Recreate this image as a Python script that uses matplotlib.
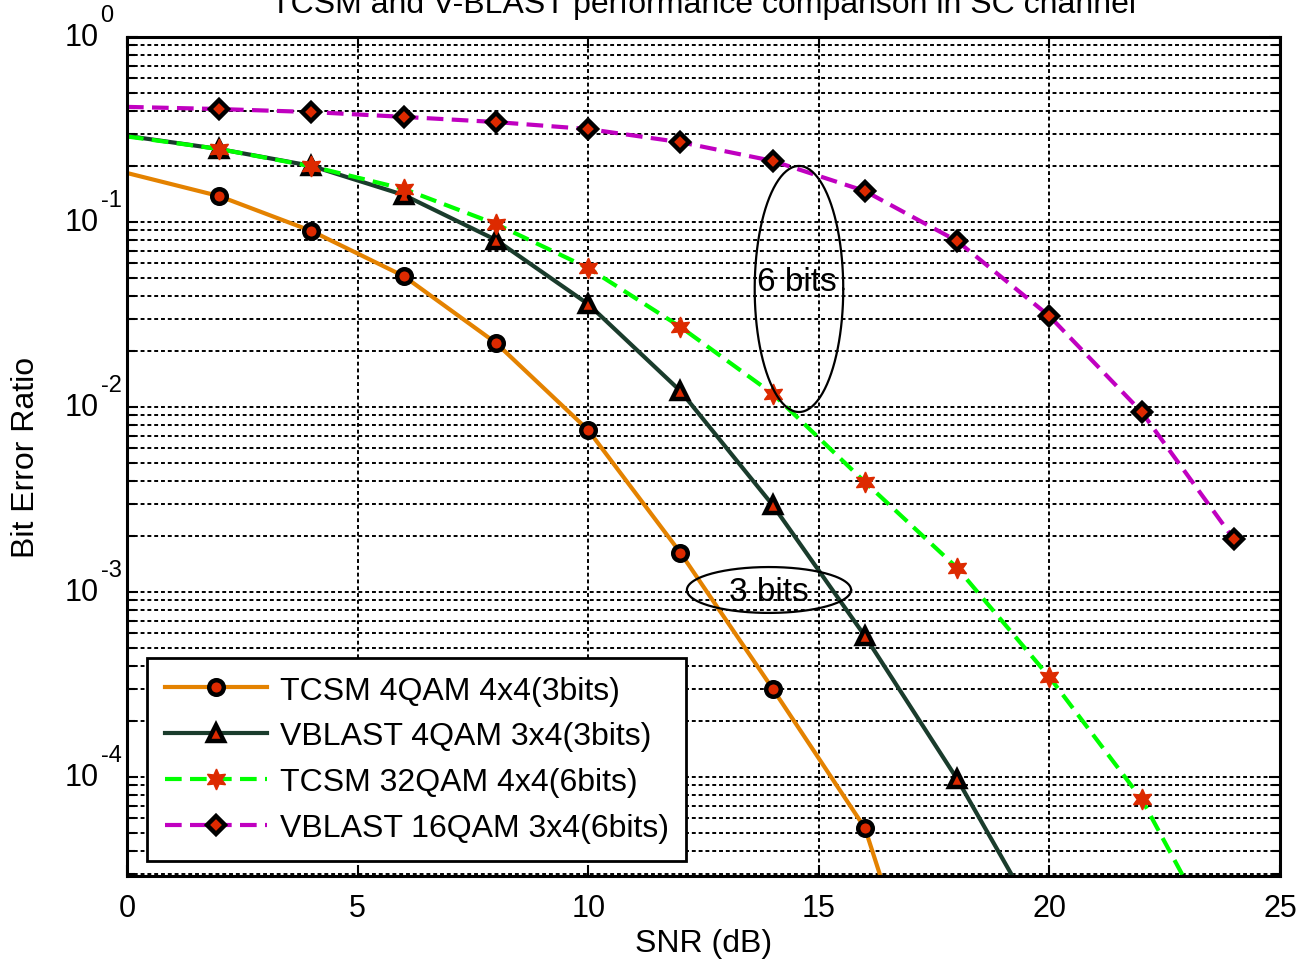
import matplotlib.pyplot as plt
import numpy as np

plt.rcParams['font.family'] = ['Liberation Sans', 'DejaVu Sans']

# data (SNR in dB, BER) - markers every 2 dB starting at 2 dB
snr_a = [0, 2, 4, 6, 8, 10, 12, 14, 16, 18]
tcsm_4qam = [0.184, 0.138, 0.0894, 0.051, 0.0222, 0.0075, 0.00163, 3.0e-4, 5.3e-5, 1.5e-6]

snr_b = [0, 2, 4, 6, 8, 10, 12, 14, 16, 18, 20]
vblast_4qam = [0.292, 0.248, 0.201, 0.14, 0.08, 0.036, 0.0122, 0.00295, 5.78e-4, 9.75e-5, 1.3e-5]

snr_c = [0, 2, 4, 6, 8, 10, 12, 14, 16, 18, 20, 22, 24]
tcsm_32qam = [0.29, 0.248, 0.2, 0.151, 0.0975, 0.0564, 0.0271, 0.0118, 0.00393, 0.00135, 3.47e-4, 7.6e-5, 9e-6]

snr_d = [0, 2, 4, 6, 8, 10, 12, 14, 16, 18, 20, 22, 24]
vblast_16qam = [0.419, 0.408, 0.393, 0.37, 0.347, 0.318, 0.27, 0.214, 0.147, 0.0789, 0.031, 0.0094, 0.00193]

labels = ['TCSM 4QAM 4x4(3bits)', 'VBLAST 4QAM 3x4(3bits)',
          'TCSM 32QAM 4x4(6bits)', 'VBLAST 16QAM 3x4(6bits)']

ytick_exp = [-4, -3, -2, -1, 0]

red = '#dd2a00'
hexagram = (6, 1, 0)
fs = 23

fig = plt.figure(figsize=(12.99, 9.62), dpi=100)
ax = fig.add_axes([127/1299, 1-877/962, (1280-127)/1299, (877-38)/962])

ax.plot(snr_a, tcsm_4qam, '-', color='#e48200', lw=3, marker='o', ms=10.5,
        mfc=red, mec='black', mew=3.2, markevery=slice(1, None), label=labels[0])
ax.plot(snr_b, vblast_4qam, '-', color='#1a3c2c', lw=3, marker='^', ms=12,
        mfc=red, mec='black', mew=3.2, markevery=slice(1, None), label=labels[1])
ax.plot(snr_c, tcsm_32qam, '--', color='#00ff00', lw=3, dashes=(4, 2), marker=hexagram, ms=15,
        mfc=red, mec=red, mew=1, markevery=slice(1, None), label=labels[2])
ax.plot(snr_d, vblast_16qam, '--', color='#c000c0', lw=3, dashes=(4, 2), marker='D', ms=9,
        mfc=red, mec='black', mew=3.2, markevery=slice(1, None), label=labels[3])

# ellipses drawn in (SNR, log BER) space
def ellipse(cx, cy, a, b):
    t = np.linspace(0, 2*np.pi, 200)
    ax.plot(cx + a*np.cos(t), 10**(np.log10(cy) + b*np.sin(t)), color='black', lw=1.6)

ellipse(14.57, 10**-1.362, 0.96, 0.665)
ax.text(14.53, 10**-1.319, '6 bits', fontsize=24, ha='center', va='center')
ellipse(13.92, 10**-2.989, 1.78, 0.124)
ax.text(13.92, 10**-2.995, '3 bits', fontsize=24, ha='center', va='center')

ax.set_yscale('log')
ax.set_xlim(0, 25)
ax.set_ylim(10**-4.535, 1)
ax.set_xticks([0, 5, 10, 15, 20, 25])
ax.set_yticks([10.0**e for e in ytick_exp])
ax.set_yticklabels([])
# MATLAB-style "10" with raised exponent
ytr = ax.get_yaxis_transform()
for e in ytick_exp:
    ax.annotate('10', xy=(0, 10.0**e), xycoords=ytr, xytext=(-20, 0), textcoords='offset points',
                fontsize=22, ha='right', va='center')
    ax.annotate(str(e), xy=(0, 10.0**e), xycoords=ytr, xytext=(-19, 8), textcoords='offset points',
                fontsize=17, ha='left', va='bottom')

ax.grid(True, which='major', color='black', linestyle=(0, (2, 1.5)), lw=1.4)
ax.grid(True, which='minor', axis='y', color='black', linestyle=(0, (2, 1.5)), lw=1.4)
ax.tick_params(which='both', direction='in', top=True, right=True, labelsize=22, width=1.5)
ax.tick_params(which='major', length=8)
ax.tick_params(which='minor', length=6)
ax.tick_params(axis='x', pad=12)
for s in ax.spines.values():
    s.set_linewidth(2.2)

ax.set_xlabel('SNR (dB)', fontsize=fs)
ax.xaxis.set_label_coords(0.5, -(929-877)/839)
ax.set_ylabel('Bit Error Ratio', fontsize=fs)
ax.yaxis.set_label_coords(-(127-41)/1153, 0.5)
fig.text(703.5/1299, 1-13/962, 'TCSM and V-BLAST performance comparison in SC channel',
         fontsize=fs, ha='center', va='baseline')

leg = ax.legend(loc='lower left', bbox_to_anchor=(20/1153, 15/839), borderaxespad=0,
                fontsize=fs, handlelength=3.2, handletextpad=0.4, fancybox=False, framealpha=1,
                edgecolor='black', labelspacing=0.5, borderpad=0.55)
leg.get_frame().set_linewidth(2)

fig.savefig('out.png', dpi=100)
